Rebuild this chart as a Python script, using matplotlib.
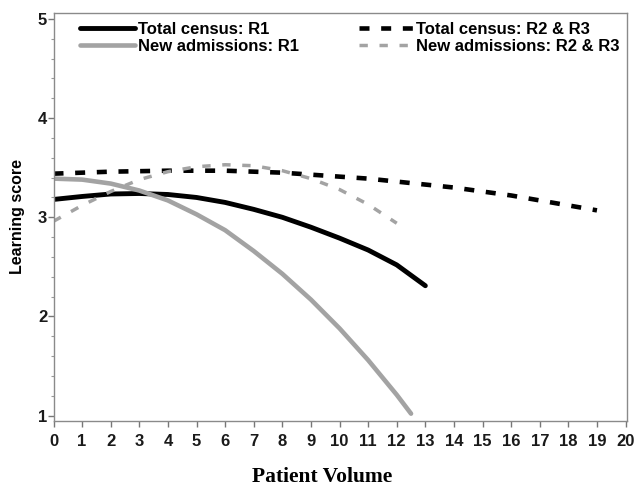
import matplotlib
matplotlib.use("Agg")
import matplotlib.pyplot as plt
from matplotlib.ticker import MultipleLocator

# values
x_tc_r1 = [0, 1, 2, 3, 4, 5, 6, 7, 8, 9, 10, 11, 12, 13]
y_tc_r1 = [3.18, 3.21, 3.235, 3.24, 3.23, 3.20, 3.15, 3.08, 3.00, 2.90, 2.79, 2.67, 2.52, 2.31]

x_na_r1 = [0, 1, 2, 3, 4, 5, 6, 7, 8, 9, 10, 11, 12, 12.5]
y_na_r1 = [3.39, 3.38, 3.34, 3.27, 3.17, 3.03, 2.87, 2.66, 2.43, 2.17, 1.88, 1.56, 1.21, 1.02]

x_tc_r23 = list(range(0, 20))
y_tc_r23 = [3.44, 3.45, 3.46, 3.465, 3.47, 3.47, 3.47, 3.46, 3.45, 3.43,
            3.41, 3.39, 3.36, 3.33, 3.30, 3.26, 3.22, 3.17, 3.12, 3.07]

x_na_r23 = [0, 1, 2, 3, 4, 5, 6, 7, 8, 9, 10, 11, 12]
y_na_r23 = [2.96, 3.12, 3.26, 3.38, 3.46, 3.51, 3.53, 3.52, 3.47, 3.39, 3.28, 3.13, 2.94]

labels = ["Total census: R1", "New admissions: R1",
          "Total census: R2 & R3", "New admissions: R2 & R3"]
x_ticks = list(range(0, 21))
y_ticks = [1, 2, 3, 4, 5]

plt.rcParams["lines.scale_dashes"] = False
plt.rcParams["font.family"] = ["Liberation Sans", "DejaVu Sans"]

fig = plt.figure(figsize=(6.34, 4.87), dpi=100)
ax = fig.add_axes([53.5 / 634, 1 - 421 / 487, (627 - 53.5) / 634, (421 - 13) / 487])

black = "#000000"
gray = "#a3a3a3"
h1, = ax.plot(x_tc_r1, y_tc_r1, color=black, lw=3.5, solid_capstyle="round", label=labels[0])
h2, = ax.plot(x_na_r1, y_na_r1, color=gray, lw=3.3, solid_capstyle="round", label=labels[1])
h3, = ax.plot(x_tc_r23, y_tc_r23, color=black, lw=3.3, dashes=(7.2, 8.4), label=labels[2])
h4, = ax.plot(x_na_r23, y_na_r23, color=gray, lw=2.5, dashes=(6.0, 8.4), label=labels[3])

ax.set_xlim(0, 20.05)
ax.set_ylim(0.946, 5.06)
ax.set_xticks(x_ticks)
ax.set_yticks(y_ticks)
ax.yaxis.set_minor_locator(MultipleLocator(0.2))

for s in ax.spines.values():
    s.set_color("#8a8a8a")
    s.set_linewidth(1.0)

ax.tick_params(axis="x", direction="out", length=4, width=1, color="#777777",
               pad=5, labelsize=12, labelcolor="#1a1a1a")
ax.tick_params(axis="y", which="major", direction="out", length=4, width=1,
               color="#777777", pad=0.5, labelsize=12, labelcolor="#1a1a1a")
ax.tick_params(axis="y", which="minor", direction="out", length=2.5, width=0.8,
               color="#999999")
for lab in ax.get_xticklabels() + ax.get_yticklabels():
    lab.set_fontweight("bold")

ax.set_xlabel("Patient Volume", family=["Liberation Serif", "DejaVu Serif"],
              fontsize=15.5, fontweight="bold")
ax.xaxis.set_label_coords((322 - 53.5) / (627 - 53.5), -(477 - 421) / (421 - 13), transform=ax.transAxes)
ax.xaxis.label.set_va("center")
ax.set_ylabel("Learning score", fontsize=11.5, fontweight="bold")
ax.yaxis.set_label_coords(-(53.5 - 18) / (627 - 53.5), 0.5)
ax.yaxis.label.set_va("center")

leg = ax.legend(handles=[h1, h2, h3, h4], ncol=2, frameon=False,
                loc="upper left", bbox_to_anchor=(80 / 634, 1 - 22 / 487),
                bbox_transform=fig.transFigure, borderpad=0, borderaxespad=0,
                handlelength=3.3, handletextpad=0.15, columnspacing=3.6,
                labelspacing=0.12, prop={"size": 12, "weight": "bold"})

fig.savefig("out.png", dpi=100, facecolor="white")
